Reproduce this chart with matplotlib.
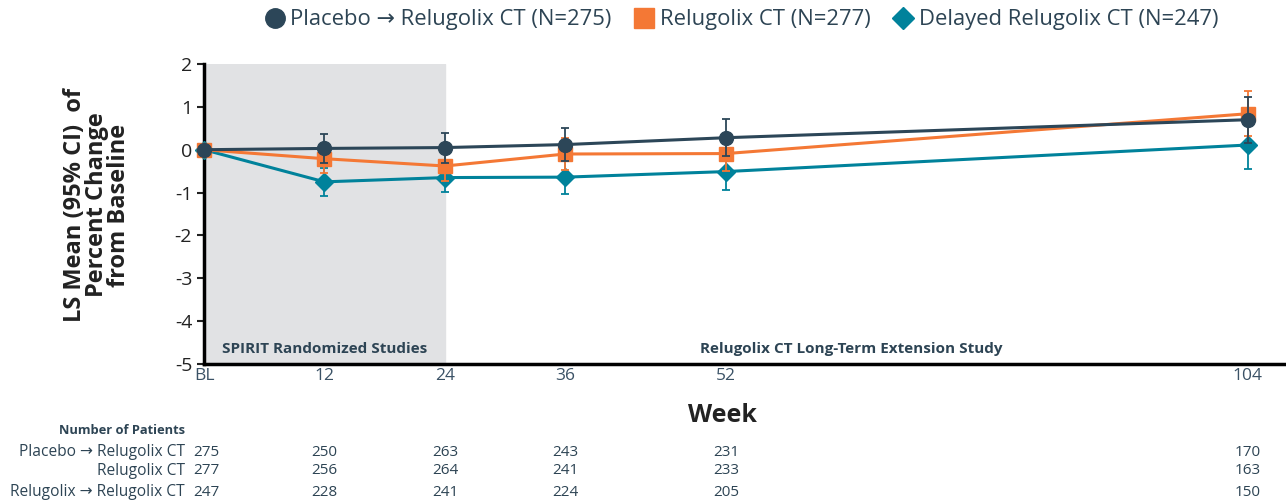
import numpy as np
import matplotlib.pyplot as plt
from matplotlib.lines import Line2D

plt.rcParams['font.family'] = ['Open Sans', 'DejaVu Sans']
plt.rcParams['axes.unicode_minus'] = False

weeks = [0, 12, 24, 36, 52, 104]
tick_labels = ['BL', '12', '24', '36', '52', '104']

placebo = [0.0, 0.03, 0.05, 0.12, 0.28, 0.70]
placebo_ci = [0.0, 0.34, 0.35, 0.39, 0.43, 0.54]
relugolix = [0.0, -0.21, -0.38, -0.10, -0.09, 0.84]
relugolix_ci = [0.0, 0.33, 0.35, 0.38, 0.40, 0.52]
delayed = [0.0, -0.75, -0.65, -0.64, -0.51, 0.11]
delayed_ci = [0.0, 0.33, 0.34, 0.40, 0.44, 0.55]

row_names = ['Placebo \u2192 Relugolix CT', 'Relugolix CT', 'Relugolix \u2192 Relugolix CT']
n_patients = [[275, 250, 263, 243, 231, 170],
              [277, 256, 264, 241, 233, 163],
              [247, 228, 241, 224, 205, 150]]

legend_labels = ['Placebo \u2192 Relugolix CT (N=275)', 'Relugolix CT (N=277)',
                 'Delayed Relugolix CT (N=247)']

c_dark = '#2c4658'
c_orange = '#f47835'
c_teal = '#00829b'
txt = '#2d4454'

fig = plt.figure(figsize=(12.86, 5.01), dpi=100)
ax = fig.add_axes([204/1286, 1-364/501, 1-204/1286, 300/501])

ax.axvspan(0, 24, color='#e1e2e4', zorder=0)

series = [(delayed, delayed_ci, c_teal, 'D', 9.5),
          (relugolix, relugolix_ci, c_orange, 's', 9.5),
          (placebo, placebo_ci, c_dark, 'o', 10)]
for i, (y, e, c, m, ms) in enumerate(series):
    ax.errorbar(weeks, y, yerr=e, color=c, marker=m, markersize=ms, lw=2.2,
                elinewidth=1.3, capsize=3, capthick=1.3, clip_on=False, zorder=3+i)

ax.set_xlim(0, 107.8)
ax.set_ylim(-5, 2)
ax.set_yticks(range(-5, 3))
ax.set_xticks(weeks)
ax.set_xticklabels(tick_labels)
ax.tick_params(axis='y', labelsize=14, colors='#222222', length=5, width=1.5)
ax.tick_params(axis='x', labelsize=12.5, labelcolor='#3b5266', length=0, pad=3)
ax.spines['top'].set_visible(False)
ax.spines['right'].set_visible(False)
ax.spines['left'].set_linewidth(2.5)
ax.spines['bottom'].set_linewidth(2.5)

ax.text(12, -4.82, 'SPIRIT Randomized Studies', ha='center', va='bottom',
        fontsize=11, fontweight='bold', color=txt)
ax.text(64.5, -4.82, 'Relugolix CT Long-Term Extension Study', ha='center', va='bottom',
        fontsize=11, fontweight='bold', color=txt)

fig.text(97/1286, 1-205/501, 'LS Mean (95% CI)  of\nPercent Change\nfrom Baseline',
         rotation=90, ha='center', va='center', fontsize=17, fontweight='bold',
         color='#222222', linespacing=0.88)

fig.text(722/1286, 1-416/501, 'Week', ha='center', va='center', fontsize=18,
         fontweight='bold', color='#222222')

fig.text(122/1286, 1-430/501, 'Number of Patients', ha='center', va='center',
         fontsize=9.3, fontweight='bold', color=txt)
row_y = [452, 471, 492]
for name, counts, yy in zip(row_names, n_patients, row_y):
    fig.text(185/1286, 1-yy/501, name, ha='right', va='center', fontsize=11.2, color=txt)
    for k, (w, n) in enumerate(zip(weeks, counts)):
        if k == 0:
            fig.text(193/1286, 1-yy/501, str(n), ha='left', va='center', fontsize=11, color=txt)
        else:
            xp = ax.transData.transform((w, 0))[0] / fig.bbox.width
            fig.text(xp, 1-yy/501, str(n), ha='center', va='center', fontsize=11, color=txt)

handles = [Line2D([], [], color=c_dark, marker='o', ls='none', markersize=14),
           Line2D([], [], color=c_orange, marker='s', ls='none', markersize=14),
           Line2D([], [], color=c_teal, marker='D', ls='none', markersize=11)]
leg = fig.legend(handles, legend_labels, loc='center', bbox_to_anchor=(740/1286, 1-20/501),
                 ncol=3, frameon=False, fontsize=15.8, handletextpad=0.1, columnspacing=0.9,
                 handlelength=1.2)
for t in leg.get_texts():
    t.set_color(txt)

fig.savefig('out.png', dpi=100)
